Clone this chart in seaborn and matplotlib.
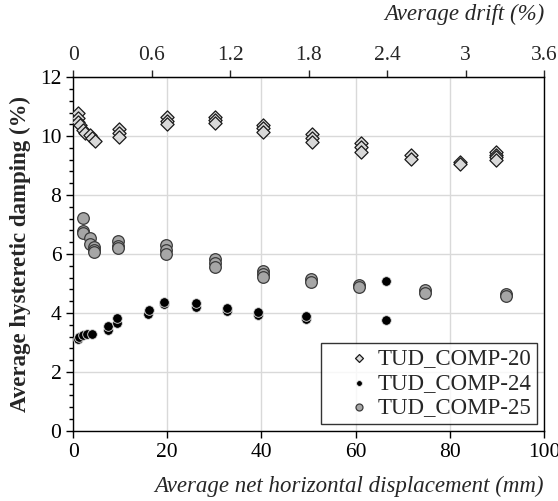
import numpy as np
import pandas as pd
import matplotlib
matplotlib.use("Agg")
import matplotlib.pyplot as plt
from matplotlib.ticker import MultipleLocator
import seaborn as sns

# ---- data ----
comp20_x = [1.1, 1.1, 1.1, 1.5, 2.2, 2.5, 3.5, 4.0, 4.7,
            9.8, 9.8, 9.8, 19.9, 19.9, 19.9, 30.1, 30.1, 30.1,
            40.4, 40.4, 40.4, 50.7, 50.7, 50.7, 61.1, 61.1, 61.1,
            71.7, 71.7, 82.2, 82.2, 89.8, 89.8, 89.8, 89.8]
comp20_y = [10.77, 10.6, 10.48, 10.37, 10.22, 10.09, 10.03, 9.92, 9.82,
            10.23, 10.09, 9.98, 10.65, 10.52, 10.41, 10.65, 10.54, 10.45,
            10.37, 10.26, 10.15, 10.07, 9.94, 9.81, 9.75, 9.62, 9.47,
            9.36, 9.24, 9.13, 9.07, 9.47, 9.36, 9.28, 9.19]

comp24_x = [1.0, 1.3, 2.0, 3.0, 4.0, 7.4, 7.4, 9.4, 9.4, 16.0, 16.2,
            19.3, 19.4, 26.0, 26.0, 32.6, 32.6, 39.3, 39.3, 49.4, 49.4,
            66.4, 66.4]
comp24_y = [3.12, 3.2, 3.26, 3.28, 3.28, 3.42, 3.57, 3.67, 3.84, 3.97, 4.10,
            4.31, 4.38, 4.21, 4.33, 4.07, 4.16, 3.93, 4.04, 3.79, 3.90,
            5.07, 3.76]

comp25_x = [2.06, 2.06, 2.06, 3.5, 3.5, 4.5, 4.5, 4.5,
            9.6, 9.6, 9.6, 19.7, 19.7, 19.7, 30.1, 30.1, 30.1,
            40.3, 40.3, 40.3, 50.5, 50.5, 60.7, 60.7, 74.7, 74.7, 91.9, 91.9]
comp25_y = [7.21, 6.79, 6.70, 6.53, 6.34, 6.25, 6.14, 6.08,
            6.44, 6.27, 6.19, 6.31, 6.15, 5.99, 5.82, 5.68, 5.55,
            5.42, 5.31, 5.21, 5.14, 5.06, 4.95, 4.87, 4.78, 4.69, 4.63, 4.59]

series_names = ["TUD_COMP-20", "TUD_COMP-24", "TUD_COMP-25"]
x_ticks = [0, 20, 40, 60, 80, 100]
y_ticks = [0, 2, 4, 6, 8, 10, 12]
drift_ticks = [0, 0.6, 1.2, 1.8, 2.4, 3.0, 3.6]
drift_labels = ["0", "0.6", "1.2", "1.8", "2.4", "3", "3.6"]
drift_per_mm = 0.036

# ---- style ----
sns.set_style("white")
plt.rcParams["font.family"] = ["Liberation Serif", "DejaVu Serif"]

fig = plt.figure(figsize=(5.58, 5.01), dpi=100)
ax = fig.add_axes([0.131, 0.140, 0.844, 0.706])

df20 = pd.DataFrame({"x": comp20_x, "y": comp20_y, "s": series_names[0]})
df24 = pd.DataFrame({"x": comp24_x, "y": comp24_y, "s": series_names[1]})
df25 = pd.DataFrame({"x": comp25_x, "y": comp25_y, "s": series_names[2]})

sns.scatterplot(data=df20, x="x", y="y", ax=ax, marker="D", s=45,
                color="#d9d9d9", edgecolor="#1a1a1a", linewidth=0.9,
                label=series_names[0], zorder=3)
sns.scatterplot(data=df24, x="x", y="y", ax=ax, marker="o", s=48,
                color="#000000", edgecolor="#e0e0e0", linewidth=0.6,
                label=series_names[1], zorder=3)
sns.scatterplot(data=df25, x="x", y="y", ax=ax, marker="o", s=70,
                color="#a6a6a6", edgecolor="#3a3a3a", linewidth=0.9,
                label=series_names[2], zorder=3)

ax.set_xlim(0, 100)
ax.set_ylim(0, 12)
ax.set_xticks(x_ticks)
ax.set_yticks(y_ticks)
ax.yaxis.set_minor_locator(MultipleLocator(0.4))
ax.grid(True, which="major", color="#d9d9d9", linewidth=1.0)
ax.set_axisbelow(True)

for sp in ax.spines.values():
    sp.set_visible(True)
    sp.set_color("black")
    sp.set_linewidth(1.0)

ax.tick_params(axis="both", which="major", direction="out", length=5, width=1,
               labelsize=15.5, color="black", labelcolor="black")
ax.tick_params(axis="y", which="minor", direction="out", length=3, width=1, color="black", left=True)
ax.tick_params(axis="x", which="major", bottom=True)
ax.tick_params(axis="y", which="major", left=True)

ax.set_xlabel("Average net horizontal displacement (mm)", fontsize=16.5,
              fontstyle="italic", loc="right", labelpad=10)
ax.set_ylabel("Average hysteretic damping (%)", fontsize=16.5,
              fontweight="bold", labelpad=6)

sec = ax.secondary_xaxis("top", functions=(lambda v: v * drift_per_mm,
                                            lambda d: d / drift_per_mm))
sec.set_xticks(drift_ticks)
sec.set_xticklabels(drift_labels)
sec.tick_params(axis="x", direction="out", length=5, width=1, labelsize=15.5, top=True)
sec.set_xlabel("Average drift (%)", fontsize=16.5, fontstyle="italic", loc="right", labelpad=19)

leg = ax.legend(loc="lower right", fontsize=16.5, frameon=True, fancybox=False,
                edgecolor="black", handletextpad=-0.6, borderpad=0.25,
                labelspacing=0.15, markerscale=0.6, handlelength=2.8,
                borderaxespad=0.3)
leg.get_frame().set_linewidth(1.0)

fig.savefig("out.png", dpi=100)
